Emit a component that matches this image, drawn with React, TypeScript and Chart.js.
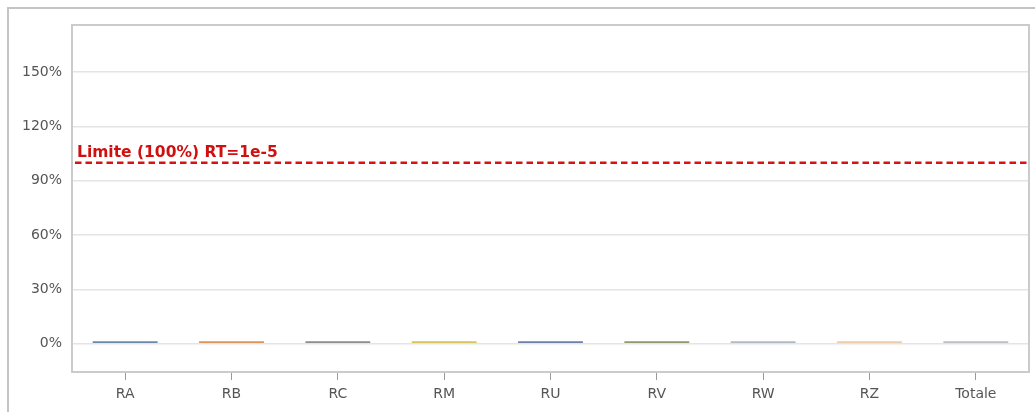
import React, { useEffect, useRef } from "react";
import { Chart, registerables } from "chart.js";

Chart.register(...registerables);

const categories = ["RA", "RB", "RC", "RM", "RU", "RV", "RW", "RZ", "Totale"];
const values = [1.4, 1.4, 1.4, 1.4, 1.4, 1.4, 1.4, 1.4, 1.4];
const barColors = [
  "#6e88a8",
  "#d8965c",
  "#8e8e8e",
  "#d6c65a",
  "#6c80aa",
  "#8e9a6e",
  "#b0bac6",
  "#f0cba8",
  "#bcc0c4",
];
const yTicks = [0, 30, 60, 90, 120, 150];
const yMin = -15.6;
const yMax = 176;
const limitValue = 100;
const limitLabel = "Limite (100%) RT=1e-5";

const framePlugin = {
  id: "frameAndLimit",
  afterDatasetsDraw(chart: any) {
    const { ctx, chartArea, scales } = chart;
    const { left, right, top, bottom } = chartArea;
    ctx.save();
    // limit line
    const y = scales.y.getPixelForValue(limitValue);
    ctx.strokeStyle = "#dd1010";
    ctx.lineWidth = 2.5;
    ctx.setLineDash([6.5, 4]);
    ctx.beginPath();
    ctx.moveTo(left + 3, y);
    ctx.lineTo(right - 1, y);
    ctx.stroke();
    ctx.setLineDash([]);
    ctx.fillStyle = "#d01010";
    ctx.font = "bold 15.5px 'DejaVu Sans', sans-serif";
    ctx.textAlign = "left";
    ctx.textBaseline = "alphabetic";
    ctx.fillText(limitLabel, left + 5, y - 6);
    // plot frame
    ctx.strokeStyle = "#cbcbcb";
    ctx.lineWidth = 2;
    ctx.strokeRect(left, top, right - left, bottom - top);
    ctx.restore();
  },
};

export default function App() {
  const ref = useRef<HTMLCanvasElement | null>(null);
  useEffect(() => {
    if (!ref.current) return;
    const chart = new Chart(ref.current, {
      type: "bar",
      data: {
        labels: categories,
        datasets: [
          {
            data: values,
            backgroundColor: barColors,
            borderWidth: 0,
            categoryPercentage: 1,
            barPercentage: 0.61,
          },
        ],
      },
      options: {
        animation: false,
        responsive: false,
        maintainAspectRatio: false,
        layout: { padding: { left: 0, top: 25, right: 6, bottom: 0 } },
        plugins: {
          legend: { display: false },
          tooltip: { enabled: false },
        },
        scales: {
          x: {
            offset: true,
            grid: {
              display: true,
              offset: false,
              drawOnChartArea: false,
              drawTicks: true,
              tickLength: 8,
              color: "#9a9a9a",
            },
            border: { display: false },
            ticks: {
              color: "#555555",
              font: { family: "'DejaVu Sans', sans-serif", size: 14 },
              padding: 6,
            },
            afterFit: (s: any) => {
              s.height = 40;
            },
          },
          y: {
            min: yMin,
            max: yMax,
            afterBuildTicks: (s: any) => {
              s.ticks = yTicks.map((v) => ({ value: v }));
            },
            grid: {
              color: "#e4e4e4",
              lineWidth: 1.5,
              drawTicks: false,
            },
            border: { display: false },
            ticks: {
              color: "#555555",
              font: { family: "'DejaVu Sans', sans-serif", size: 14 },
              padding: 10,
              callback: (v: any) => v + "%",
            },
            afterFit: (s: any) => {
              s.width = 72;
            },
          },
        },
      },
      plugins: [framePlugin],
    });
    return () => chart.destroy();
  }, []);
  return (
    <div style={{ position: "absolute", left: 0, top: 0, width: 1035, height: 412, background: "#fff" }}>
      <div
        style={{
          position: "absolute",
          left: 7,
          top: 7,
          right: 0,
          bottom: 0,
          borderTop: "2px solid #c4c4c4",
          borderLeft: "2px solid #c4c4c4",
        }}
      />
      <canvas ref={ref} width={1035} height={412} style={{ position: "absolute", left: 0, top: 0 }} />
    </div>
  );
}
